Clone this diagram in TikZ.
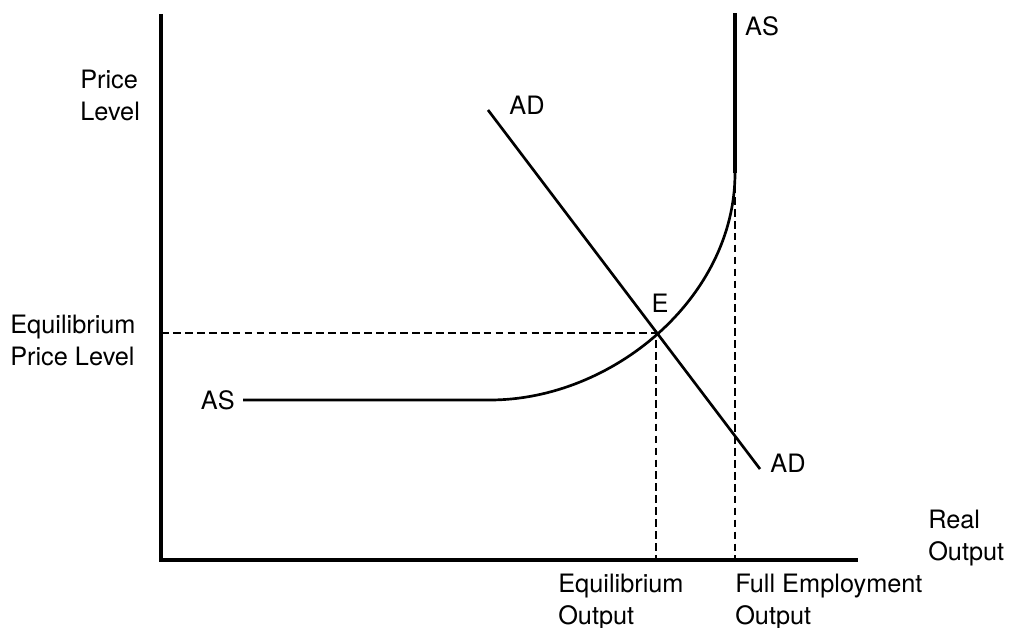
\documentclass[tikz,border=0pt]{standalone}
\usepackage{fontspec}
\setmainfont{TeX Gyre Heros}
\usetikzlibrary{positioning}

\begin{document}
\begin{tikzpicture}[x=0.025cm,y=-0.025cm,
    font=\fontsize{18}{22.5}\selectfont,
    ax/.style={line width=2.5pt},
    cv/.style={line width=1.9pt},
    dsh/.style={line width=1.4pt,dash pattern=on 5.5pt off 3pt},
    lab/.style={inner sep=0pt},
    txt/.style={inner sep=0pt,align=left,anchor=north west}]
  \useasboundingbox (0,0) rectangle (1011,628);
  % axes
  \coordinate (o) at (161,560);
  \coordinate (ytop) at (161,14);
  \coordinate (xend) at (858,560);
  \draw[ax] (ytop) -- (o) -- (xend);
  % points on the curves
  \coordinate (e) at (656,333);
  \coordinate (full) at (735,173);
  \coordinate (flat) at (490,400);
  \coordinate (as-start) at (243,400);
  \coordinate (as-top) at (735,13);
  \coordinate (ad-start) at (488,110);
  \coordinate (ad-end) at (760,469);
  % dashed guides
  \draw[dsh] (o |- e) -- (e) -- (e |- o);
  \draw[dsh] (full) -- (full |- o);
  % AS and AD
  \draw[cv] (as-start) -- (flat) .. controls (612,400) and (735,298) .. (full);
  \draw[ax] (full) -- (as-top);
  \draw[cv] (ad-start) -- (ad-end);
  % curve labels
  \node[lab] (as-hi) at (762,26) {AS};
  \node[lab,left=0.2cm of as-start] (as-lo) {AS};
  \node[lab] (ad-hi) at (527,105) {AD};
  \node[lab] (ad-lo) at (788,463) {AD};
  \node[lab] (e-lab) at (660,303) {E};
  % axis texts
  \node[txt] (py) at (80,70) {Price\\Level};
  \node[txt] (eq-p) at (10,315) {Equilibrium\\Price Level};
  \node[txt] (eq-o) at (558,574) {Equilibrium\\Output};
  \node[txt] (fe-o) at (735,574) {Full Employment\\Output};
  \node[txt] (rx) at (928,510) {Real\\Output};
\end{tikzpicture}
\end{document}
